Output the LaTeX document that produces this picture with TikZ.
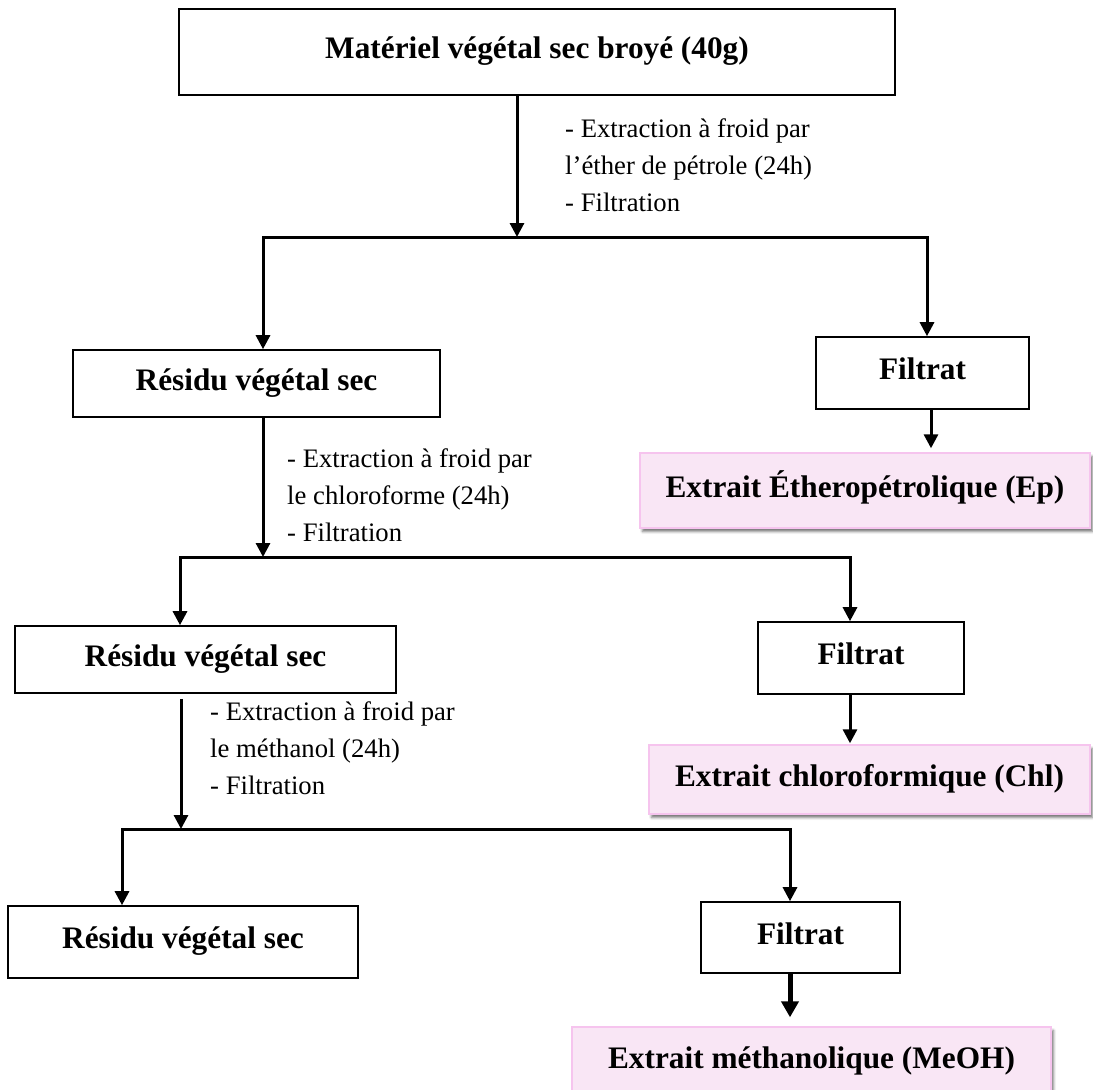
\documentclass[tikz,border=0pt]{standalone}
\usepackage{fontspec}
\setmainfont{Liberation Serif}
\usetikzlibrary{arrows.meta,shadows.blur}
\definecolor{pinkfill}{RGB}{249,230,245}
\definecolor{pinkedge}{RGB}{246,196,238}
\begin{document}
\begin{tikzpicture}[x=1pt,y=-1pt,
  box/.style={draw=black, line width=1.6pt, fill=white, inner sep=0pt,
    text height=22pt, text depth=9pt,
    font=\fontsize{31.3}{36}\selectfont\bfseries},
  extract/.style={fill=pinkfill, draw=pinkedge, line width=1.4pt, inner sep=0pt,
    text height=22pt, text depth=9pt,
    font=\fontsize{31.3}{36}\selectfont\bfseries,
    blur shadow={shadow xshift=2.5pt, shadow yshift=-3.5pt, shadow blur radius=2.5pt, shadow opacity=55}},
  note/.style={font=\fontsize{26.7}{37}\selectfont, align=left, anchor=west, inner sep=0pt},
  arr/.style={line width=3pt, -{Triangle[length=14pt,width=14pt]}},
  bigarr/.style={line width=5pt, -{Triangle[length=16pt,width=17pt]}},
]
\useasboundingbox (0,0) rectangle (1093,1090);

% boxes
\node[box, minimum width=716pt, minimum height=86pt] (top) at (537,52) {Matériel végétal sec broyé (40g)};
\node[box, minimum width=367pt, minimum height=67pt] (r1) at (256.5,383.5) {Résidu végétal sec};
\node[box, minimum width=213pt, minimum height=72pt] (f1) at (922.5,373) {Filtrat};
\node[extract, minimum width=450pt, minimum height=75pt] (e1) at (865,490.5) {Extrait Étheropétrolique (Ep)};
\node[box, minimum width=381pt, minimum height=67pt] (r2) at (205.5,659.5) {Résidu végétal sec};
\node[box, minimum width=206pt, minimum height=72pt] (f2) at (861,658) {Filtrat};
\node[extract, minimum width=441pt, minimum height=69pt] (e2) at (869.5,779.5) {Extrait chloroformique (Chl)};
\node[box, minimum width=350pt, minimum height=72pt] (r3) at (183,942) {Résidu végétal sec};
\node[box, minimum width=199pt, minimum height=71pt] (f3) at (800.5,937.5) {Filtrat};
\node[extract, minimum width=479pt, minimum height=70pt] (e3) at (811.5,1062) {Extrait méthanolique (MeOH)};

% notes
\node[note] (n1) at (565,165) {- Extraction à froid par\\l’éther de pétrole (24h)\\- Filtration};
\node[note] (n2) at (287,495) {- Extraction à froid par\\le chloroforme (24h)\\- Filtration};
\node[note] (n3) at (210,748) {- Extraction à froid par\\le méthanol (24h)\\- Filtration};

% junctions
\coordinate (j1) at (517,237); \coordinate (j1l) at (263,237); \coordinate (j1r) at (927,237);
\coordinate (j2) at (263,557); \coordinate (j2l) at (180,557); \coordinate (j2r) at (850,557);
\coordinate (j3) at (181,829); \coordinate (j3l) at (122,829); \coordinate (j3r) at (790,829);

% connectors
\draw[arr] (top.south -| j1) -- (j1);
\draw[arr] (j1) -- (j1l) -- (r1.north -| j1l);
\draw[arr] (j1) -- (j1r) -- (f1.north -| j1r);
\draw[arr, shorten >=4pt] (f1.south -| 931,0) -- (e1.north -| 931,0);

\draw[arr] (r1.south -| j2) -- (j2);
\draw[arr] (j2) -- (j2l) -- (r2.north -| j2l);
\draw[arr] (j2) -- (j2r) -- (f2.north -| j2r);
\draw[arr, shorten >=1pt] (f2.south -| j2r) -- (e2.north -| j2r);

\draw[arr, shorten <=5pt] (r2.south -| j3) -- (j3);
\draw[arr] (j3) -- (j3l) -- (r3.north -| j3l);
\draw[arr] (j3) -- (j3r) -- (f3.north -| j3r);
\draw[bigarr, shorten >=9pt] (f3.south -| j3r) -- (e3.north -| j3r);
\end{tikzpicture}
\end{document}
